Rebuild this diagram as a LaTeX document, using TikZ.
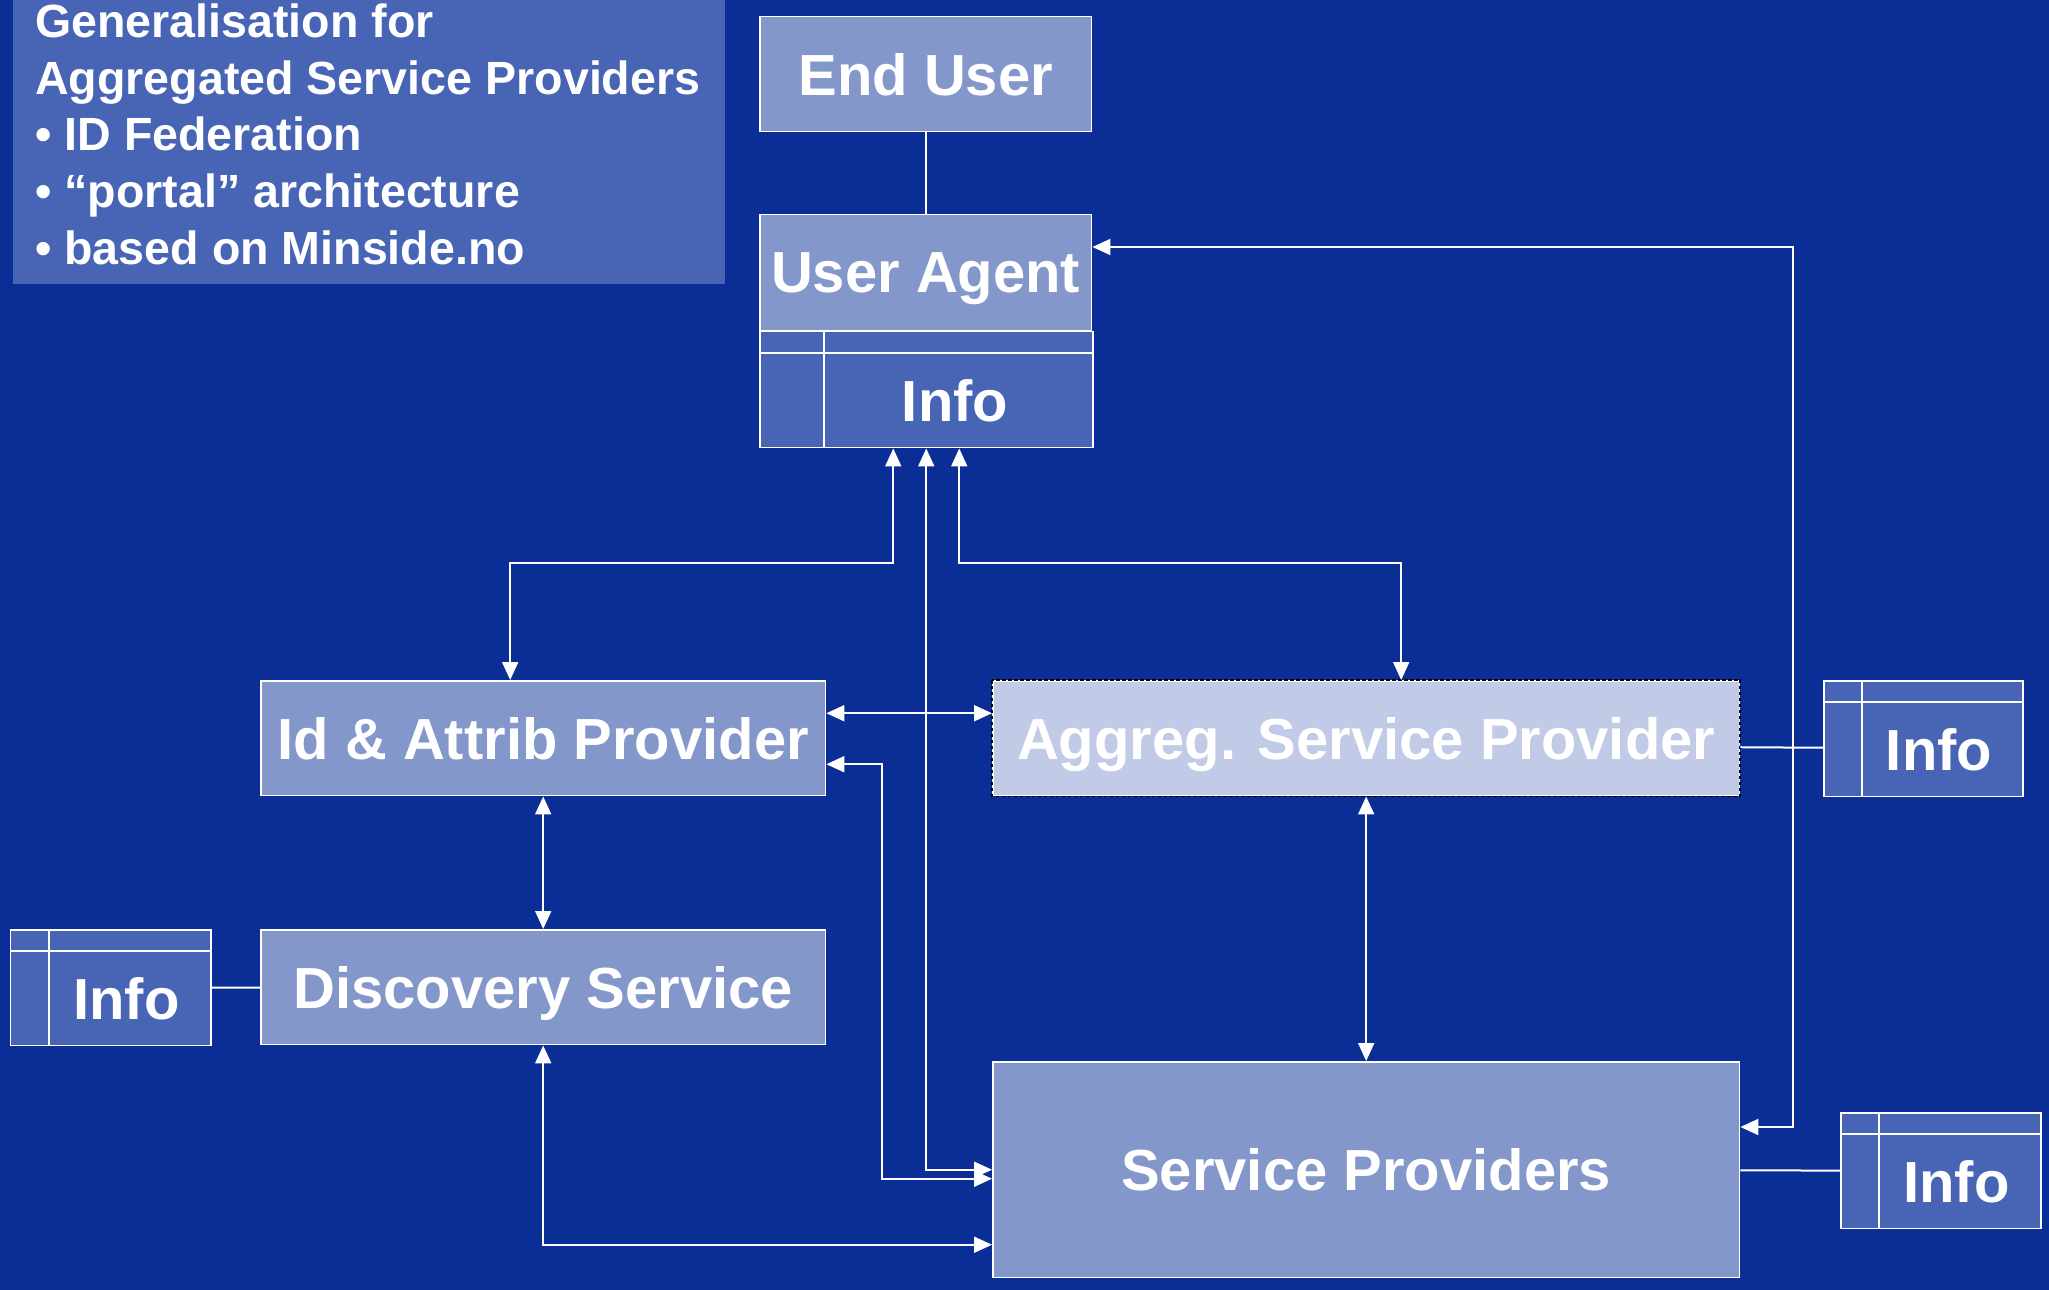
\documentclass[tikz,border=0pt]{standalone}
\usepackage{fontspec}
\setmainfont{Liberation Sans}
\usetikzlibrary{positioning,calc,arrows.meta}
\definecolor{nightblue}{HTML}{0A2D96}
\definecolor{paleblue}{HTML}{8497CA}
\definecolor{midblue}{HTML}{4864B4}
\definecolor{mistblue}{HTML}{C1CAE6}

\tikzset{
  lightbox/.style={draw=white,line width=0.03cm,fill=paleblue,text=white,inner sep=0pt,
        text depth=0pt,font=\bfseries\fontsize{33}{40}\selectfont,anchor=north west},
  infobox/.style={draw=white,line width=0.03cm,fill=midblue,inner sep=0pt,
        minimum height=2.32cm,anchor=north west},
  gridline/.style={draw=white,line width=0.03cm},
  boxtext/.style={text=white,inner sep=0pt,font=\bfseries\fontsize{33}{40}\selectfont},
  link/.style={draw=white,line width=0.04cm,<->,
        >={Triangle[length=0.36cm,width=0.32cm]}},
  plainlink/.style={draw=white,line width=0.04cm},
}

% table with a header strip and a first column, #1 name, #2/#3 corner, #4 width, #5 column
\newcommand{\infotable}[5]{%
  \node[infobox,minimum width=#4*0.02cm] (#1) at (#2,#3) {};
  \draw[gridline] ($(#1.north west)+(0,22)$) -- ($(#1.north east)+(0,22)$);
  \draw[gridline] ($(#1.north west)+(#5,0)$) -- ($(#1.south west)+(#5,0)$);
  \node[boxtext] (#1-txt) at ($(#1.west)+({(#4+#5)/2-3},11)$) {Info};
}

\begin{document}
\begin{tikzpicture}[x=0.02cm,y=-0.02cm]
  \fill[nightblue] (0,0) rectangle (2049,1290);
  \useasboundingbox (0,0) rectangle (2049,1290);

  % heading panel
  \node[fill=midblue,minimum width=14.24cm,minimum height=5.68cm,anchor=north west,
        inner sep=0pt] (titlebox) at (13,0) {};
  \node[text=white,anchor=north west,inner sep=0pt,align=left,
        font=\bfseries\fontsize{26.5}{32.4}\selectfont] (titletext) at (35,3)
        {Generalisation for\\Aggregated Service Providers\\• ID Federation\\
         • “portal” architecture\\• based on Minside.no};

  % boxes
  \node[lightbox,minimum width=6.64cm,minimum height=2.3cm] (eu) at (759,16) {End User};
  \node[lightbox,minimum width=6.64cm,minimum height=2.32cm] (ua) at (759,214) {User Agent};
  \infotable{uainfo}{759}{331}{333}{65}
  \node[lightbox,minimum width=11.3cm,minimum height=2.3cm] (id) at (260,680) {Id \& Attrib Provider};
  \node[lightbox,minimum width=11.3cm,minimum height=2.3cm] (ds) at (260,929) {Discovery Service};
  \node[lightbox,fill=mistblue,minimum width=14.94cm,minimum height=2.3cm] (ag) at (992,680)
        {Aggreg. Service Provider};
  \draw[black,line width=0.035cm,dash pattern=on 0.07cm off 0.05cm] (ag.north west) rectangle (ag.south east);
  \node[lightbox,minimum width=14.94cm,minimum height=4.32cm] (sp) at (992,1061) {Service Providers};

  \infotable{infoag}{1823}{680}{199}{39}
  \infotable{infods}{10}{929}{200}{39}
  \infotable{infosp}{1840}{1112}{200}{39}

  % connectors
  \draw[plainlink] (eu) -- (ua);
  \draw[link] ($(ua.north east)+(0,33)$) -| ($(sp.north east)+(53,66)$) -- ($(sp.north east)+(0,66)$);
  \draw[link] ($(uainfo.south)+(-33,0)$) |- ($(id.north)+(-33,-117)$) -- ($(id.north)+(-33,0)$);
  \draw[link] (uainfo.south) |- (sp.west);
  \draw[link] ($(uainfo.south)+(33,0)$) |- ($(ag.north)+(35,-117)$) -- ($(ag.north)+(35,0)$);
  \draw[link] ($(id.east)+(0,-25)$) -- ($(ag.west)+(0,-25)$);
  \draw[link] ($(id.east)+(0,26)$) -| ($(sp.west)+(-110,9)$) -- ($(sp.west)+(0,9)$);
  \draw[link] (id) -- (ds);
  \draw[link] (ag) -- (sp);
  \draw[link] (ds.south) |- ($(sp.west)+(0,75)$);
  \draw[plainlink] ($(ag.east)+(0,9)$) -- ($(infoag.west)+(0,9)$);
  \draw[plainlink] (infods) -- (ds);
  \draw[plainlink] (sp) -- (infosp);
\end{tikzpicture}
\end{document}
